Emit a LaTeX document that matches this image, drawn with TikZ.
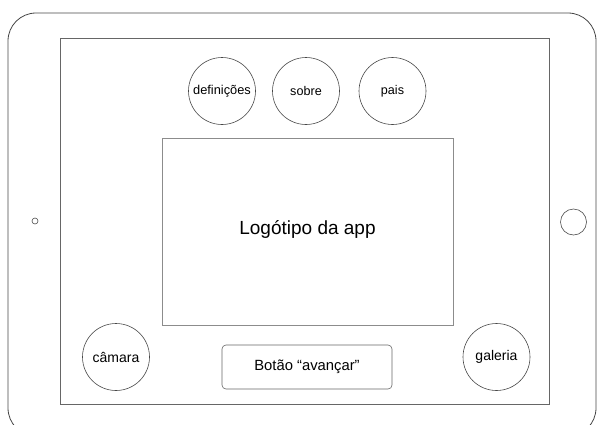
\documentclass[tikz,border=0pt]{standalone}
\usepackage{fontspec}
\setmainfont{Liberation Sans}
\begin{document}
\begin{tikzpicture}[x=1pt,y=-1pt,
  dev/.style={draw=black!72, line width=0.8pt},
  scr/.style={draw=black!60, line width=0.8pt},
  btn/.style={circle, draw=black!72, line width=0.6pt, minimum size=67pt, inner sep=0pt, font=\fontsize{14}{16}\selectfont},
  smallbtn/.style={btn, font=\fontsize{12.6}{14}\selectfont},
  logo/.style={draw=black!45, line width=0.8pt, inner sep=0pt, font=\fontsize{19}{21}\selectfont},
  nextbtn/.style={draw=black!60, line width=0.6pt, rounded corners=4pt, inner sep=0pt, font=\fontsize{14.8}{17}\selectfont}]
\useasboundingbox (0,0) rectangle (597,424);
\clip (0,0) rectangle (597,424);
\draw[dev, rounded corners=28pt] (8,13) rectangle (596,436);
\draw[scr] (60,38) rectangle (549,404);
\node[smallbtn, font=\fontsize{12.8}{14}\selectfont] (def) at (222,91) {definições};
\node[smallbtn] (sobre) at (306,91) {sobre};
\node[smallbtn] (pais) at (392.5,91) {pais};
\node[logo, minimum width=291pt, minimum height=187pt] (logo) at (307.5,231.5) {};
\node[font=\fontsize{19}{21}\selectfont] (logotxt) at (307.5,229) {Logótipo da app};
\node[btn] (cam) at (116,357) {câmara};
\node[btn] (gal) at (496.5,357) {galeria};
\node[nextbtn, minimum width=170pt, minimum height=44pt] (next) at (307,367) {Botão “avançar”};
\node[circle, draw=black!70, line width=0.6pt, minimum size=6pt, inner sep=0pt] (cam2) at (35,221) {};
\node[circle, draw=black!70, line width=0.6pt, minimum size=26pt, inner sep=0pt] (home) at (573.5,222) {};
\end{tikzpicture}
\end{document}
